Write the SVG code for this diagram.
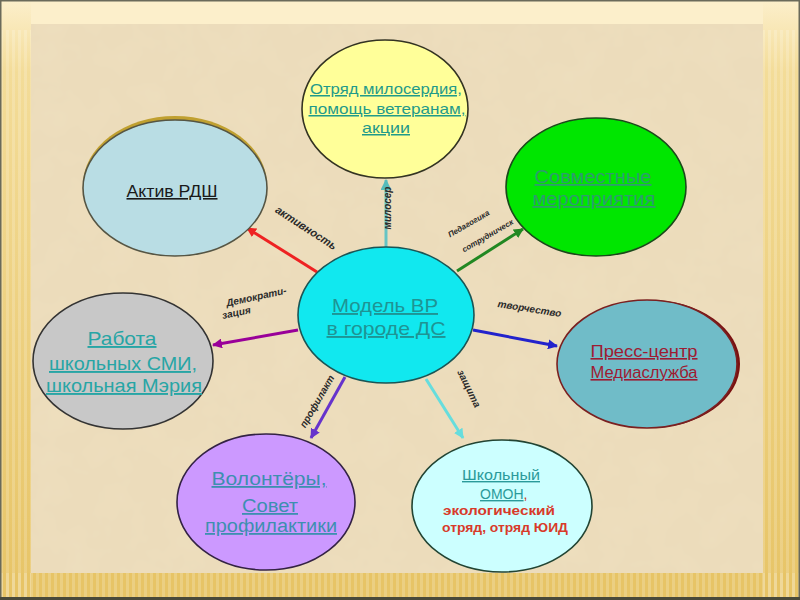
<svg xmlns="http://www.w3.org/2000/svg" width="800" height="600" viewBox="0 0 800 600">
<defs>
  <style>
    .node{stroke-width:1.6}
    .t{font-family:"Liberation Sans","DejaVu Sans",sans-serif;text-anchor:middle;text-decoration:underline}
    .r{font-family:"Liberation Sans","DejaVu Sans",sans-serif;text-anchor:middle;font-weight:bold;fill:#d83a2a}
    .lbl{font-family:"Liberation Sans","DejaVu Sans",sans-serif;font-style:italic;font-weight:bold;fill:#2a2a2a;text-anchor:middle}
    .c{fill:none;stroke-width:3}
  </style>
  <linearGradient id="side" x1="0" y1="0" x2="0" y2="1">
    <stop offset="0" stop-color="#fcefcb"/>
    <stop offset="0.12" stop-color="#f3dc98"/>
    <stop offset="1" stop-color="#e7c466"/>
  </linearGradient>
  <pattern id="stripes" width="6" height="10" patternUnits="userSpaceOnUse">
    <rect width="3" height="10" fill="#ffffff" fill-opacity="0.18"/>
  </pattern>
  <filter id="tex" x="0" y="0" width="100%" height="100%">
    <feTurbulence type="fractalNoise" baseFrequency="0.03" numOctaves="3" seed="5"/>
    <feColorMatrix type="matrix" values="0 0 0 0 0.86  0 0 0 0 0.74  0 0 0 0 0.52  0 0 0 1.3 -0.5"/>
  </filter>
  <marker id="mRed" viewBox="0 0 10 10" refX="9" refY="5" markerWidth="10" markerHeight="10" markerUnits="userSpaceOnUse" orient="auto"><path d="M0,0 L10,5 L0,10 z" fill="#ee2222"/></marker>
  <marker id="mGreen" viewBox="0 0 10 10" refX="9" refY="5" markerWidth="10" markerHeight="10" markerUnits="userSpaceOnUse" orient="auto"><path d="M0,0 L10,5 L0,10 z" fill="#228822"/></marker>
  <marker id="mTeal" viewBox="0 0 10 10" refX="9" refY="5" markerWidth="11" markerHeight="11" markerUnits="userSpaceOnUse" orient="auto"><path d="M0,0 L10,5 L0,10 z" fill="#55bbbb"/></marker>
  <marker id="mMag" viewBox="0 0 10 10" refX="9" refY="5" markerWidth="10" markerHeight="10" markerUnits="userSpaceOnUse" orient="auto"><path d="M0,0 L10,5 L0,10 z" fill="#990099"/></marker>
  <marker id="mBlue" viewBox="0 0 10 10" refX="9" refY="5" markerWidth="10" markerHeight="10" markerUnits="userSpaceOnUse" orient="auto"><path d="M0,0 L10,5 L0,10 z" fill="#2222cc"/></marker>
  <marker id="mViol" viewBox="0 0 10 10" refX="9" refY="5" markerWidth="10" markerHeight="10" markerUnits="userSpaceOnUse" orient="auto"><path d="M0,0 L10,5 L0,10 z" fill="#6633cc"/></marker>
  <marker id="mCyan" viewBox="0 0 10 10" refX="9" refY="5" markerWidth="10" markerHeight="10" markerUnits="userSpaceOnUse" orient="auto"><path d="M0,0 L10,5 L0,10 z" fill="#66dddd"/></marker>
</defs>

<!-- background frame -->
<rect x="0" y="0" width="800" height="600" fill="#fcefcb"/>
<rect x="0" y="0" width="31" height="600" fill="url(#side)"/>
<rect x="763" y="0" width="37" height="600" fill="url(#side)"/>
<rect x="0" y="573" width="800" height="27" fill="#e7c466"/>
<rect x="0" y="30" width="31" height="570" fill="url(#stripes)"/>
<rect x="763" y="30" width="37" height="570" fill="url(#stripes)"/>
<rect x="0" y="573" width="800" height="27" fill="url(#stripes)"/>
<rect x="31" y="24" width="732" height="549" fill="#ecdcbb"/>
<rect x="31" y="24" width="732" height="549" filter="url(#tex)"/>
<rect x="0.75" y="0.75" width="798.5" height="598.5" fill="none" stroke="#6a6a5a" stroke-width="1.5"/>
<rect x="0" y="597" width="800" height="3" fill="#4a4a3a"/>

<!-- connectors -->
<g id="connectors">
  <line class="c" x1="386" y1="247" x2="386" y2="180" stroke="#66c4c4" stroke-width="5" marker-end="url(#mTeal)"/>
  <line class="c" x1="317" y1="272" x2="247" y2="228" stroke="#ee2222" marker-end="url(#mRed)"/>
  <line class="c" x1="457" y1="271" x2="523" y2="229" stroke="#228822" marker-end="url(#mGreen)"/>
  <line class="c" x1="298" y1="330" x2="213" y2="345" stroke="#990099" marker-end="url(#mMag)"/>
  <line class="c" x1="473" y1="330" x2="557" y2="346" stroke="#2222cc" marker-end="url(#mBlue)"/>
  <line class="c" x1="345" y1="377" x2="311" y2="438" stroke="#6633cc" marker-end="url(#mViol)"/>
  <line class="c" x1="426" y1="379" x2="463" y2="438" stroke="#66dddd" marker-end="url(#mCyan)"/>

  <text class="lbl" font-size="10" transform="translate(391,208) rotate(-90)">милосер</text>
  <text class="lbl" font-size="11" transform="translate(304,231) rotate(33)">активность</text>
  <text class="lbl" font-size="8" transform="translate(470,226) rotate(-30)">Педагогика</text>
  <text class="lbl" font-size="8" transform="translate(489,238) rotate(-30)">сотрудническ</text>
  <text class="lbl" font-size="10" transform="translate(257,300) rotate(-12)">Демократи-</text>
  <text class="lbl" font-size="10" transform="translate(237,316) rotate(-12)">зация</text>
  <text class="lbl" font-size="10" transform="translate(529,312) rotate(9)">творчество</text>
  <text class="lbl" font-size="10" transform="translate(320,403) rotate(-60)">профилакт</text>
  <text class="lbl" font-size="10" transform="translate(466,390) rotate(64)">защита</text>
</g>

<!-- nodes -->
<g id="node-top">
  <ellipse class="node" cx="385" cy="109" rx="83" ry="69" fill="#ffff99" stroke="#333322"/>
  <text class="t" font-size="15" fill="#1f9a8a" x="386" y="94" textLength="152" lengthAdjust="spacingAndGlyphs">Отряд милосердия,</text>
  <text class="t" font-size="15" fill="#1f9a8a" x="387" y="114" textLength="157" lengthAdjust="spacingAndGlyphs">помощь ветеранам,</text>
  <text class="t" font-size="15" fill="#1f9a8a" x="386" y="133" textLength="48" lengthAdjust="spacingAndGlyphs">акции</text>
</g>

<g id="node-rdsh">
  <ellipse cx="175" cy="185" rx="92" ry="69" fill="#c0a030"/>
  <ellipse class="node" cx="175" cy="188" rx="92" ry="68" fill="#b9dde4" stroke="#555544"/>
  <text class="t" font-size="16" fill="#1a1a1a" x="172" y="197" textLength="91" lengthAdjust="spacingAndGlyphs">Актив РДШ</text>
</g>

<g id="node-joint">
  <ellipse class="node" cx="596" cy="187" rx="90" ry="69" fill="#00e600" stroke="#1a4a1a"/>
  <text class="t" font-size="18" fill="#2e9c6e" x="593" y="183" textLength="117" lengthAdjust="spacingAndGlyphs">Совместные</text>
  <text class="t" font-size="18" fill="#2e9c6e" x="594" y="205" textLength="123" lengthAdjust="spacingAndGlyphs">мероприятия</text>
</g>

<g id="node-center">
  <ellipse class="node" cx="386" cy="315" rx="88" ry="68" fill="#11e8ef" stroke="#1a5555"/>
  <text class="t" font-size="19" fill="#1e9494" x="385" y="312" textLength="106" lengthAdjust="spacingAndGlyphs">Модель ВР</text>
  <text class="t" font-size="19" fill="#1e9494" x="386" y="335" textLength="119" lengthAdjust="spacingAndGlyphs">в городе ДС</text>
</g>

<g id="node-smi">
  <ellipse class="node" cx="123" cy="361" rx="90" ry="68" fill="#c8c8c8" stroke="#333333"/>
  <text class="t" font-size="19" fill="#27a5a5" x="122" y="345" textLength="69" lengthAdjust="spacingAndGlyphs">Работа</text>
  <text class="t" font-size="19" fill="#27a5a5" x="123" y="370" textLength="148" lengthAdjust="spacingAndGlyphs">школьных СМИ,</text>
  <text class="t" font-size="19" fill="#27a5a5" x="124" y="392" textLength="156" lengthAdjust="spacingAndGlyphs">школьная Мэрия</text>
</g>

<g id="node-press">
  <ellipse cx="650" cy="364" rx="90" ry="64" fill="#7a1010"/>
  <ellipse class="node" cx="647" cy="364" rx="90" ry="64" fill="#70bcc8" stroke="#7a2020"/>
  <text class="t" font-size="16" fill="#9e1b32" x="644" y="357" textLength="107" lengthAdjust="spacingAndGlyphs">Пресс-центр</text>
  <text class="t" font-size="16" fill="#9e1b32" x="644" y="378" textLength="107" lengthAdjust="spacingAndGlyphs">Медиаслужба</text>
</g>

<g id="node-volunteers">
  <ellipse class="node" cx="266" cy="502" rx="89" ry="68" fill="#cc99ff" stroke="#332244"/>
  <text class="t" font-size="18" fill="#3d8fb0" x="269" y="485" textLength="115" lengthAdjust="spacingAndGlyphs">Волонтёры,</text>
  <text class="t" font-size="18" fill="#3d8fb0" x="270" y="512" textLength="56" lengthAdjust="spacingAndGlyphs">Совет</text>
  <text class="t" font-size="18" fill="#3d8fb0" x="271" y="532" textLength="132" lengthAdjust="spacingAndGlyphs">профилактики</text>
</g>

<g id="node-omon">
  <ellipse class="node" cx="502" cy="506" rx="90" ry="66" fill="#ccffff" stroke="#224433"/>
  <text class="t" font-size="14" fill="#2a9a9a" x="501" y="480" textLength="78" lengthAdjust="spacingAndGlyphs">Школьный</text>
  <text font-family="Liberation Sans, DejaVu Sans, sans-serif" font-size="14" x="480" y="499"><tspan fill="#2a9a9a" text-decoration="underline">ОМОН</tspan><tspan fill="#cc3322">,</tspan></text>
  <text class="r" font-size="13" x="499" y="515" textLength="112" lengthAdjust="spacingAndGlyphs">экологический</text>
  <text class="r" font-size="13" x="505" y="532" textLength="126" lengthAdjust="spacingAndGlyphs">отряд, отряд ЮИД</text>
</g>
</svg>
